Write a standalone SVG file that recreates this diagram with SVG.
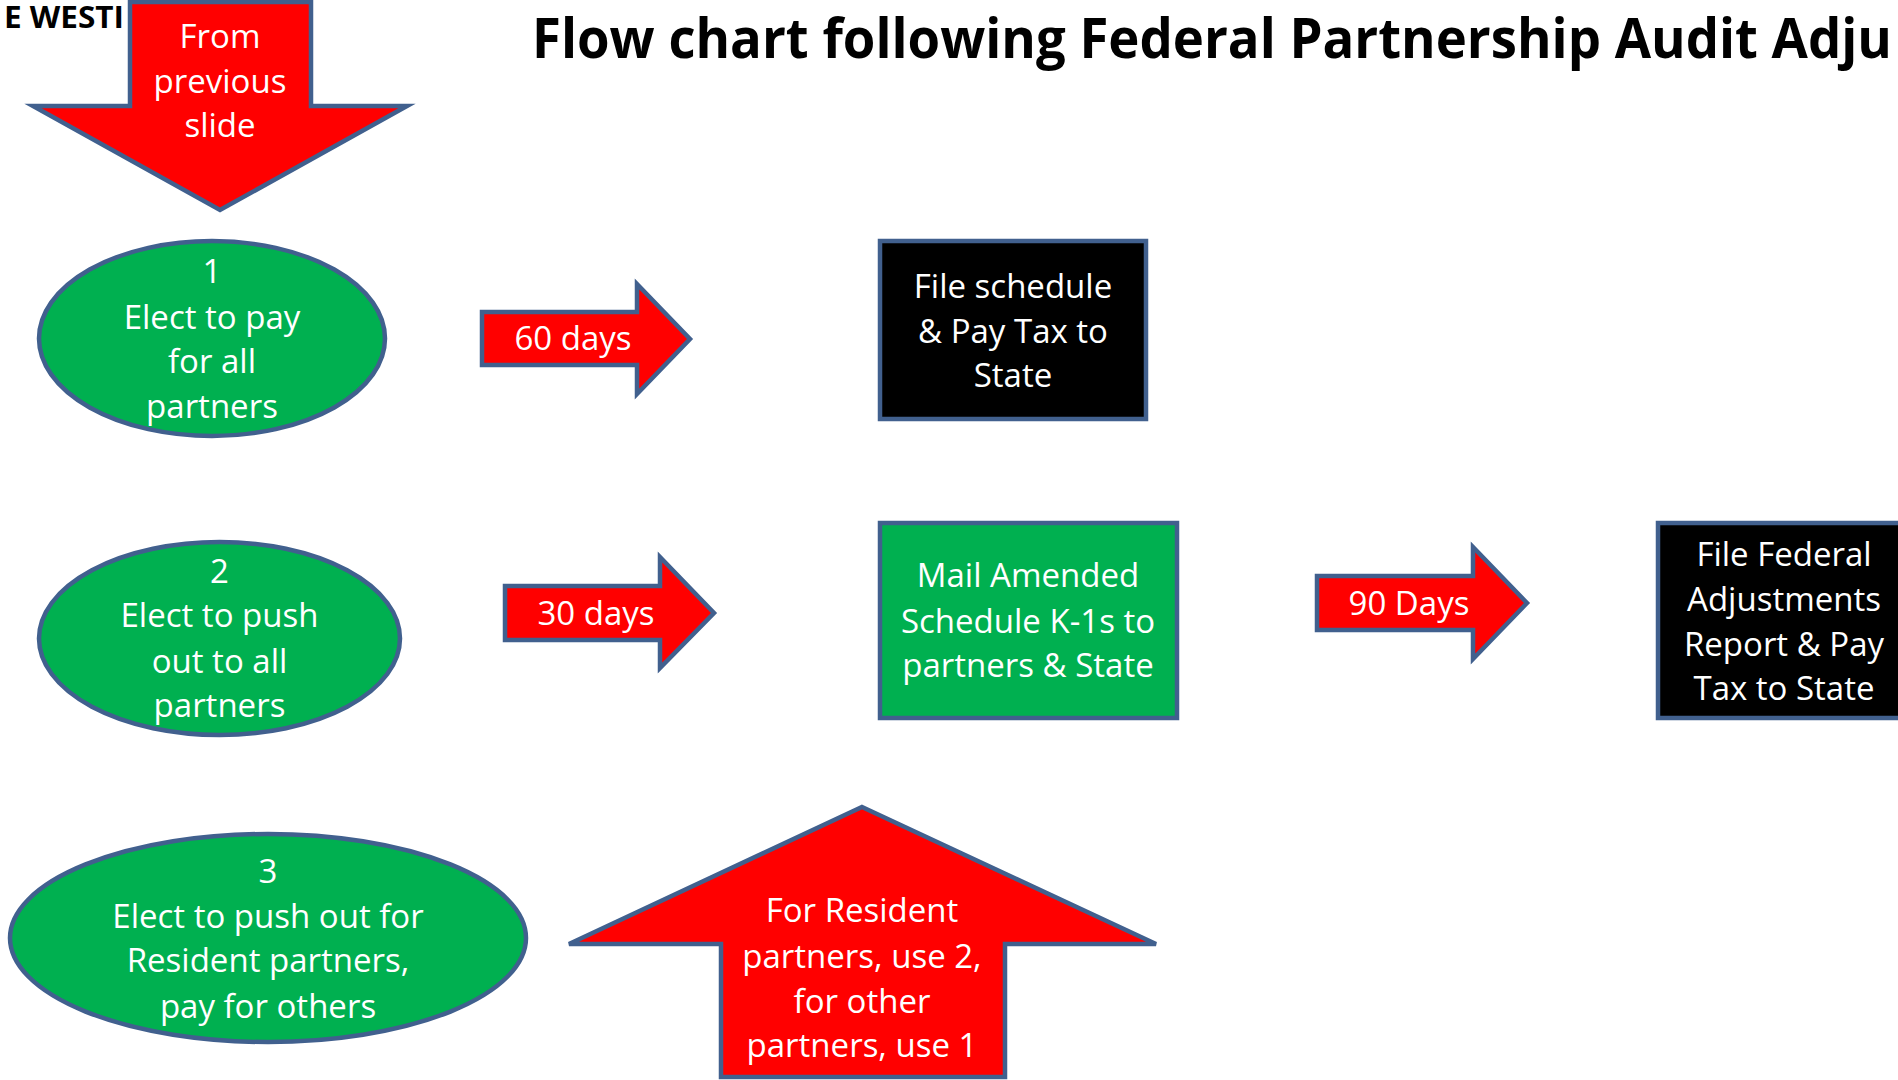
<svg xmlns="http://www.w3.org/2000/svg" width="1898" height="1080" viewBox="0 0 1898 1080">
<style>
.red{fill:#FF0000;stroke:#41608E;stroke-width:4.5;stroke-linejoin:miter}
.grn{fill:#00B050;stroke:#41608E;stroke-width:4.5}
.blk{fill:#000000;stroke:#41608E;stroke-width:4.5}
.t{font-family:"Open Sans","Liberation Sans",sans-serif;font-size:33px;fill:#FFFFFF;text-anchor:middle}
.hd{font-family:"Open Sans","Liberation Sans",sans-serif;font-weight:bold;fill:#000000}
</style>
<rect width="1898" height="1080" fill="#FFFFFF"/>
<text class="hd" x="4" y="28" font-size="30" textLength="120" lengthAdjust="spacingAndGlyphs">E WESTI</text>
<text class="hd" x="532" y="58" font-size="56" textLength="1360" lengthAdjust="spacingAndGlyphs">Flow chart following Federal Partnership Audit Adju</text>

<g id="from-previous">
<polygon class="red" points="130,2 311,2 311,106 407,106 220,210 33,106 130,106"/>
<text class="t" x="220" y="48">From</text>
<text class="t" x="220" y="93">previous</text>
<text class="t" x="220" y="137">slide</text>
</g>

<g id="option1">
<ellipse class="grn" cx="212" cy="338.5" rx="173" ry="97.5"/>
<text class="t" x="212" y="283">1</text>
<text class="t" x="212" y="329">Elect to pay</text>
<text class="t" x="212" y="373">for all</text>
<text class="t" x="212" y="418">partners</text>
</g>

<g id="option2">
<ellipse class="grn" cx="219.5" cy="638.5" rx="180.5" ry="96.5"/>
<text class="t" x="219.5" y="583">2</text>
<text class="t" x="219.5" y="627">Elect to push</text>
<text class="t" x="219.5" y="673">out to all</text>
<text class="t" x="219.5" y="717">partners</text>
</g>

<g id="option3">
<ellipse class="grn" cx="268" cy="938" rx="258" ry="104"/>
<text class="t" x="268" y="883">3</text>
<text class="t" x="268" y="928">Elect to push out for</text>
<text class="t" x="268" y="972">Resident partners,</text>
<text class="t" x="268" y="1018">pay for others</text>
</g>

<g id="file-schedule">
<rect class="blk" x="880" y="241" width="266" height="178"/>
<text class="t" x="1013" y="298">File schedule</text>
<text class="t" x="1013" y="343">&amp; Pay Tax to</text>
<text class="t" x="1013" y="387">State</text>
</g>

<g id="mail-amended">
<rect class="grn" x="880" y="523" width="297" height="195"/>
<text class="t" x="1028" y="587">Mail Amended</text>
<text class="t" x="1028" y="633">Schedule K-1s to</text>
<text class="t" x="1028" y="677">partners &amp; State</text>
</g>

<g id="file-federal">
<rect class="blk" x="1658" y="523" width="260" height="195"/>
<text class="t" x="1784" y="566">File Federal</text>
<text class="t" x="1784" y="611">Adjustments</text>
<text class="t" x="1784" y="656">Report &amp; Pay</text>
<text class="t" x="1784" y="700">Tax to State</text>
</g>

<g id="resident-note">
<polygon class="red" points="862,807 1156,944 1005,944 1005,1077 721,1077 721,944 569,944"/>
<text class="t" x="862" y="922">For Resident</text>
<text class="t" x="862" y="968">partners, use 2,</text>
<text class="t" x="862" y="1013">for other</text>
<text class="t" x="862" y="1057">partners, use 1</text>
</g>

<g id="connectors">
<g id="arrow-60">
<polygon class="red" points="482,312 637,312 637,284 690,339 637,394 637,365 482,365"/>
<text class="t" x="573" y="350">60 days</text>
</g>
<g id="arrow-30">
<polygon class="red" points="505,586 660,586 660,557 714,613 660,668 660,640 505,640"/>
<text class="t" x="596" y="625">30 days</text>
</g>
<g id="arrow-90">
<polygon class="red" points="1317,576 1473,576 1473,547 1527,603 1473,659 1473,630 1317,630"/>
<text class="t" x="1409" y="615">90 Days</text>
</g>
</g>
</svg>
